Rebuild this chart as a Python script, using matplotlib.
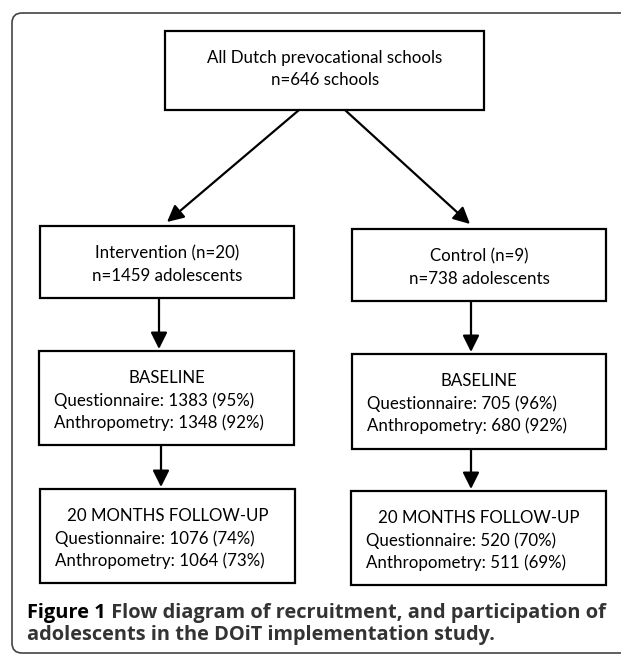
import matplotlib
matplotlib.use("Agg")
import matplotlib.pyplot as plt
from matplotlib.patches import Rectangle, FancyBboxPatch

# box texts
top_lines = ["All Dutch prevocational schools", "n=646 schools"]
group_lines = [
    ["Intervention (n=20)", "n=1459 adolescents"],
    ["Control (n=9)", "n=738 adolescents"],
]
baseline_title = "BASELINE"
baseline_lines = [
    ["Questionnaire: 1383 (95%)", "Anthropometry: 1348 (92%)"],
    ["Questionnaire: 705 (96%)", "Anthropometry: 680 (92%)"],
]
followup_title = "20 MONTHS FOLLOW-UP"
followup_lines = [
    ["Questionnaire: 1076 (74%)", "Anthropometry: 1064 (73%)"],
    ["Questionnaire: 520 (70%)", "Anthropometry: 511 (69%)"],
]
caption_bold = "Figure 1"
caption_rest = [" Flow diagram of recruitment, and participation of",
                "adolescents in the DOiT implementation study."]

W, H = 621, 656
fig = plt.figure(figsize=(W / 100, H / 100), dpi=100)
ax = fig.add_axes([0, 0, 1, 1])
ax.set_xlim(0, W)
ax.set_ylim(H, 0)
ax.axis("off")

FONT = "Lato"
BOX_FS = 12.2

# outer rounded frame, open on the right
frame = FancyBboxPatch((12, 13), 660, 640, boxstyle="round,pad=0,rounding_size=10",
                       fill=False, ec="#444444", lw=1.2)
ax.add_patch(frame)


def box(x0, y0, x1, y1):
    ax.add_patch(Rectangle((x0, y0), x1 - x0, y1 - y0, fill=False, ec="black", lw=1.6))


def arrow(x0, y0, x1, y1):
    ax.annotate("", xy=(x1, y1), xytext=(x0, y0),
                arrowprops=dict(arrowstyle="-|>,head_length=1.0,head_width=0.5",
                                color="black", lw=1.6, shrinkA=0, shrinkB=0))


# top box
box(165, 31, 484, 110)
for txt, y in zip(top_lines, [58, 80]):
    ax.text(325, y, txt, ha="center", va="center", fontsize=BOX_FS, family=FONT)

# group boxes
group_boxes = [(40, 226, 294, 298), (352, 229, 606, 301)]
for (x0, y0, x1, y1), lines in zip(group_boxes, group_lines):
    box(x0, y0, x1, y1)
    cx = (x0 + x1) / 2
    ax.text(cx, y0 + 27, lines[0], ha="center", va="center", fontsize=BOX_FS, family=FONT)
    ax.text(cx, y0 + 50, lines[1], ha="center", va="center", fontsize=BOX_FS, family=FONT)

arrow(299, 110, 167, 222)
arrow(345, 110, 470, 224)

# baseline boxes
base_boxes = [(39, 351, 294, 445), (352, 354, 606, 449)]
for (x0, y0, x1, y1), lines in zip(base_boxes, baseline_lines):
    box(x0, y0, x1, y1)
    cx = (x0 + x1) / 2
    ax.text(cx, y0 + 27, baseline_title, ha="center", va="center", fontsize=BOX_FS, family=FONT)
    ax.text(x0 + 15, y0 + 50, lines[0], ha="left", va="center", fontsize=BOX_FS, family=FONT)
    ax.text(x0 + 15, y0 + 72, lines[1], ha="left", va="center", fontsize=BOX_FS, family=FONT)

arrow(159, 298, 159, 349)
arrow(471, 301, 471, 352)

# follow-up boxes
fu_boxes = [(40, 489, 295, 583), (351, 491, 606, 585)]
for (x0, y0, x1, y1), lines in zip(fu_boxes, followup_lines):
    box(x0, y0, x1, y1)
    cx = (x0 + x1) / 2
    ax.text(cx, y0 + 27, followup_title, ha="center", va="center", fontsize=BOX_FS, family=FONT)
    ax.text(x0 + 15, y0 + 50, lines[0], ha="left", va="center", fontsize=BOX_FS, family=FONT)
    ax.text(x0 + 15, y0 + 72, lines[1], ha="left", va="center", fontsize=BOX_FS, family=FONT)

arrow(161, 445, 161, 487)
arrow(471, 449, 471, 489)

# caption
CAP_FS = 14.4
t = ax.text(27, 613, caption_bold, ha="left", va="center", fontsize=CAP_FS,
            family="Open Sans", weight="bold", color="black")
fig.canvas.draw()
bb = t.get_window_extent()
x_after = ax.transData.inverted().transform((bb.x1, bb.y0))[0]
ax.text(x_after, 613, caption_rest[0], ha="left", va="center", fontsize=CAP_FS,
        family="Open Sans", weight="bold", color="#333333")
ax.text(27, 635, caption_rest[1], ha="left", va="center", fontsize=CAP_FS,
        family="Open Sans", weight="bold", color="#333333")

fig.savefig("out.png", dpi=100, facecolor="white")
